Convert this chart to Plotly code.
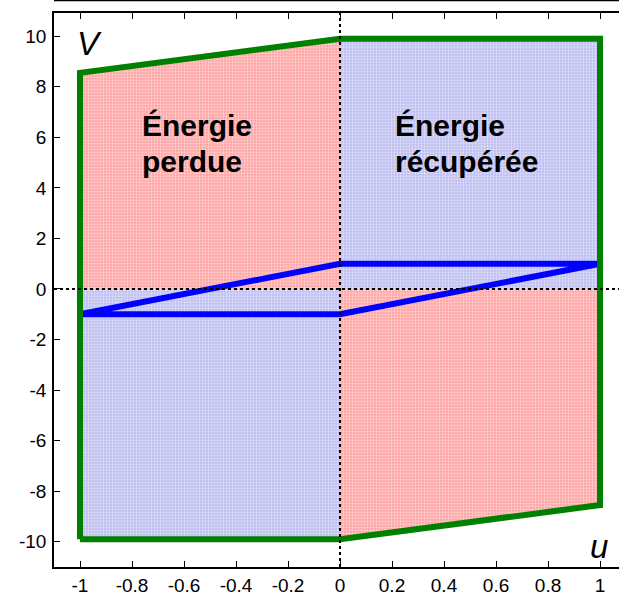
import plotly.graph_objects as go

# ---- data ----
x_ticks = [-1, -0.8, -0.6, -0.4, -0.2, 0, 0.2, 0.4, 0.6, 0.8, 1]
x_tick_labels = ["-1", "-0.8", "-0.6", "-0.4", "-0.2", "0", "0.2", "0.4", "0.6", "0.8", "1"]
y_ticks = [-10, -8, -6, -4, -2, 0, 2, 4, 6, 8, 10]
y_tick_labels = ["-10", "-8", "-6", "-4", "-2", "0", "2", "4", "6", "8", "10"]

# green boundary (u, V)
green_u = [-1, -1, 0, 1, 1, 0, -1]
green_v = [-9.9, 8.55, 9.9, 9.9, -8.55, -9.9, -9.9]

# blue parallelogram
blue_u = [-1, 0, 1, 0, -1]
blue_v = [-1, 1, 1, -1, -1]

# quadrant regions
lost_top_u = [-1, -1, 0, 0]
lost_top_v = [0, 8.55, 9.9, 0]
lost_bot_u = [0, 0, 1, 1]
lost_bot_v = [0, -9.9, -8.55, 0]
rec_top_u = [0, 0, 1, 1]
rec_top_v = [0, 9.9, 9.9, 0]
rec_bot_u = [-1, -1, 0, 0]
rec_bot_v = [0, -9.9, -9.9, 0]

FONT = "Liberation Sans, Arial, sans-serif"
PINK = "#ffa0a0"
LAV = "#bcbcf0"

fig = go.Figure()

def region(u, v, col):
    fig.add_trace(go.Scatter(
        x=u, y=v, mode="lines", fill="toself", line=dict(width=0),
        fillcolor=col,
        fillpattern=dict(shape=".", bgcolor=col, fgcolor="white", size=3, solidity=0.45),
        hoverinfo="skip", showlegend=False))

region(lost_top_u, lost_top_v, PINK)
region(lost_bot_u, lost_bot_v, PINK)
region(rec_top_u, rec_top_v, LAV)
region(rec_bot_u, rec_bot_v, LAV)

fig.add_trace(go.Scatter(x=blue_u, y=blue_v, mode="lines",
                         line=dict(color="#0000ff", width=6), showlegend=False))
fig.add_trace(go.Scatter(x=green_u, y=green_v, mode="lines",
                         line=dict(color="#008000", width=6), showlegend=False))

# dotted axes through origin
fig.add_trace(go.Scatter(x=[0, 0], y=[-11, 10.92], mode="lines",
                         line=dict(color="black", width=2, dash="dot"), showlegend=False))
fig.add_trace(go.Scatter(x=[-1.1, 1.073], y=[0, 0], mode="lines",
                         line=dict(color="black", width=2, dash="dot"), showlegend=False))

ann = []
def txt(x, y, s, size, xanchor="left"):
    ann.append(dict(x=x, y=y, xref="x", yref="y", text=s, showarrow=False,
                    xanchor=xanchor, yanchor="middle",
                    font=dict(family=FONT, size=size, color="black")))

txt(-0.77, 6.45, "<b>Énergie</b>", 30)
txt(-0.77, 5.05, "<b>perdue</b>", 30)
txt(0.205, 6.45, "<b>Énergie</b>", 30)
txt(0.205, 5.05, "<b>récupérée</b>", 30)
txt(-0.965, 9.7, "<i>V</i>", 33, "center")
txt(0.996, -10.2, "<i>u</i>", 33, "center")

fig.update_layout(
    width=619, height=595,
    margin=dict(l=54, r=0, t=13, b=28),
    paper_bgcolor="white", plot_bgcolor="white",
    font=dict(family=FONT, size=19, color="black"),
    annotations=ann,
    shapes=[dict(type="line", xref="paper", yref="paper", x0=0, x1=1,
                 y0=1.0226, y1=1.0226, line=dict(color="black", width=1.5))],
    xaxis=dict(range=[-1.1, 1.073], tickvals=x_ticks, ticktext=x_tick_labels,
               ticks="inside", ticklen=6, tickcolor="black", tickwidth=1,
               showline=True, linecolor="black", linewidth=1.5, mirror="ticks",
               showgrid=False, zeroline=False, automargin=False,
               tickfont=dict(size=19)),
    yaxis=dict(range=[-11, 10.92], tickvals=y_ticks, ticktext=y_tick_labels,
               ticks="inside", ticklen=6, tickcolor="black", tickwidth=1,
               showline=True, linecolor="black", linewidth=1.5, mirror=False,
               showgrid=False, zeroline=False, automargin=False,
               tickfont=dict(size=19), ticklabelstandoff=2),
)

fig.write_html("out.html", config={"displayModeBar": False},
               post_script="document.body.style.margin='0';document.body.style.padding='0';")
